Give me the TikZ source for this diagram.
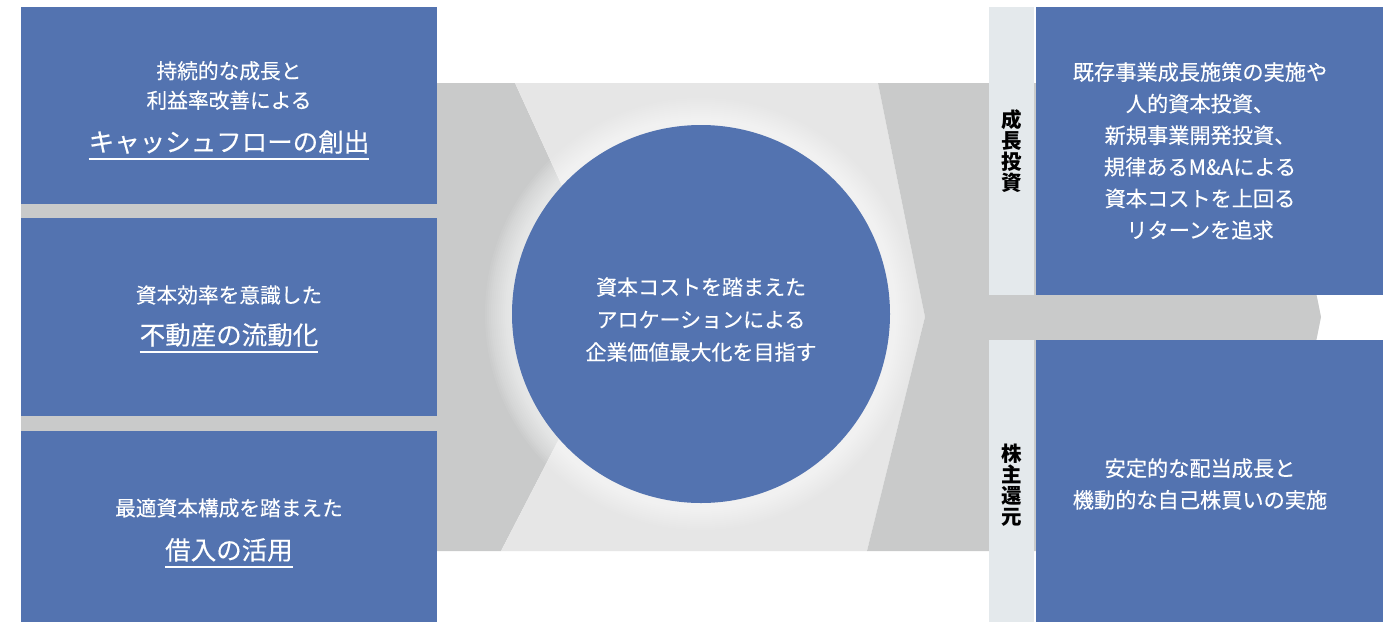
\documentclass[tikz,border=0pt]{standalone}
\usepackage{fontspec}
\newfontfamily\jp[FakeBold=0.35]{Noto Sans CJK JP}
\newfontfamily\jpb{Noto Sans CJK JP}
\usetikzlibrary{calc}
\definecolor{mblue}{RGB}{83,115,176}
\definecolor{dgray}{RGB}{201,202,202}
\definecolor{lgray}{RGB}{230,230,230}
\definecolor{strip}{RGB}{228,233,236}
\tikzset{
  box/.style={fill=mblue, draw=none, inner sep=0pt},
  stripbox/.style={fill=strip, draw=none, inner sep=0pt},
  smalltxt/.style={text=white, align=center, inner sep=0pt, font=\jp\fontsize{20.7}{29.5}\selectfont},
  bigtxt/.style={text=white, inner sep=0pt, anchor=base, font=\jp\fontsize{25.5}{30}\selectfont},
  circtxt/.style={text=white, align=center, inner sep=0pt, font=\jp\fontsize{21}{32.5}\selectfont},
  righttxt/.style={text=white, align=center, inner sep=0pt, font=\jp\fontsize{21.2}{31.6}\selectfont},
  vlabel/.style={text=black, align=center, inner sep=0pt, font=\jpb\bfseries\fontsize{20.5}{21}\selectfont},
  uline/.style={white, line width=1.5pt}
}
\begin{document}
\begin{tikzpicture}[x=1pt,y=-1pt]
\useasboundingbox (0,0) rectangle (1392,622);
\fill[white] (0,0) rectangle (1392,622);
% gray band
\fill[dgray] (21,83) -- (515,83) -- (622,317) -- (501,551) -- (21,551) -- cycle;
\fill[lgray] (515,83) -- (878,83) -- (925,317) -- (867,551) -- (501,551) -- (622,317) -- cycle;
\fill[dgray] (878,83) -- (1274,83) -- (1321,317) -- (1274,551) -- (867,551) -- (925,317) -- cycle;
% halo
\foreach \r in {216,214,...,190}
  \fill[white, opacity=0.07] (701,314) circle (\r);
% circle
\node[circle, fill=mblue, draw=none, minimum size=378pt, inner sep=0pt] (C) at (701,314) {};
\node[circtxt] (Ct) at (C) [yshift=-5.5pt] {資本コストを踏まえた\\アロケーションによる\\企業価値最大化を目指す};
% left boxes
\node[box, minimum width=416pt, minimum height=197pt] (L1) at (229,105.5) {};
\node[box, minimum width=416pt, minimum height=198pt] (L2) at (229,317) {};
\node[box, minimum width=416pt, minimum height=191pt] (L3) at (229,526.5) {};
\node[smalltxt] (L1s) at (229,85.5) {持続的な成長と\\利益率改善による};
\node[bigtxt] (L1b) at (229,151.5) {キャッシュフローの創出};
\draw[uline] ($(L1b.base west)+(0,7.5)$) -- ($(L1b.base east)+(0,7.5)$);
\node[smalltxt] (L2s) at (229,295) {資本効率を意識した};
\node[bigtxt] (L2b) at (229,344.5) {不動産の流動化};
\draw[uline] ($(L2b.base west)+(0,7.5)$) -- ($(L2b.base east)+(0,7.5)$);
\node[smalltxt] (L3s) at (229,508) {最適資本構成を踏まえた};
\node[bigtxt] (L3b) at (229,559.5) {借入の活用};
\draw[uline] ($(L3b.base west)+(0,7.5)$) -- ($(L3b.base east)+(0,7.5)$);
% right side
\node[stripbox, minimum width=45pt, minimum height=288pt] (S1) at (1011.5,151) {};
\node[stripbox, minimum width=45pt, minimum height=282pt] (S2) at (1011.5,481) {};
\node[box, minimum width=347pt, minimum height=288pt] (R1) at (1209.5,151) {};
\node[box, minimum width=347pt, minimum height=282pt] (R2) at (1209.5,481) {};
\node[vlabel] (V1) at (1011.5,151) {成\\長\\投\\資};
\node[vlabel] (V2) at (1011.5,485) {株\\主\\還\\元};
\node[righttxt] (R1t) at (1200,151) {既存事業成長施策の実施や\\人的資本投資、\\新規事業開発投資、\\規律あるM\&Aによる\\資本コストを上回る\\リターンを追求};
\node[righttxt] (R2t) at (1200,484) {安定的な配当成長と\\機動的な自己株買いの実施};
\end{tikzpicture}
\end{document}
